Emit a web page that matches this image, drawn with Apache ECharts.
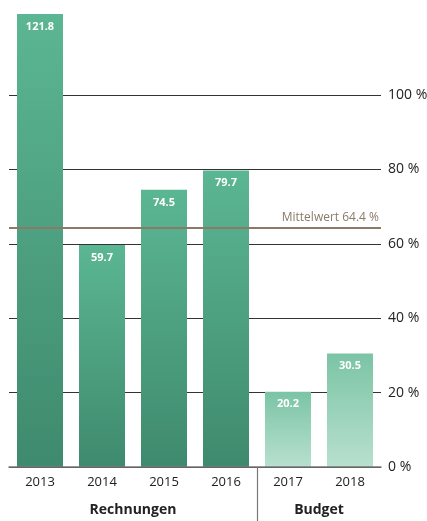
<!DOCTYPE html>
<html>
<head>
<meta charset="utf-8">
<script src="https://cdn.jsdelivr.net/npm/echarts@6/dist/echarts.min.js"></script>
<style>
  html, body { margin: 0; padding: 0; background: #fff; }
  #chart { width: 427px; height: 521px; }
</style>
</head>
<body>
<div id="chart"></div>
<script>
// Jahreswerte in Prozent
const years = ['2013', '2014', '2015', '2016', '2017', '2018'];
const values = [121.8, 59.7, 74.5, 79.7, 20.2, 30.5];
const isBudget = [false, false, false, false, true, true];
const yTicks = [0, 20, 40, 60, 80, 100];
const meanValue = 64.4;
const meanLabel = 'Mittelwert';
const groups = [
  { name: 'Rechnungen', from: 0, to: 3 },
  { name: 'Budget', from: 4, to: 5 }
];

const FONT = '"Open Sans", "Noto Sans", sans-serif';

const gradActual = new echarts.graphic.LinearGradient(0, 0, 0, 1, [
  { offset: 0, color: '#5bb693' },
  { offset: 1, color: '#3f8a6e' }
]);
const gradBudget = new echarts.graphic.LinearGradient(0, 0, 0, 1, [
  { offset: 0, color: '#7bc4a5' },
  { offset: 1, color: '#b8e0cf' }
]);

const chart = echarts.init(document.getElementById('chart'), null, { renderer: 'canvas' });

chart.setOption({
  animation: false,
  grid: {
    left: 9, right: 46, top: 95, bottom: 54,
    containLabel: false,
    outerBoundsMode: 'none'
  },
  xAxis: {
    type: 'category',
    data: years,
    axisLine: { show: true, lineStyle: { color: '#777', width: 1.5 } },
    axisTick: { show: false },
    axisLabel: { color: '#222', fontFamily: FONT, fontSize: 13, margin: 9 },
    z: 5
  },
  yAxis: {
    type: 'value',
    position: 'right',
    min: yTicks[0],
    max: yTicks[yTicks.length - 1],
    interval: 20,
    axisLine: { show: false },
    axisTick: { show: false },
    axisLabel: {
      color: '#222', fontFamily: FONT, fontSize: 14, margin: 7,
      formatter: v => v + ' %'
    },
    splitLine: { show: true, lineStyle: { color: '#333', width: 1 } }
  },
  series: [{
    type: 'bar',
    data: values.map((v, i) => ({
      value: v,
      itemStyle: { color: isBudget[i] ? gradBudget : gradActual }
    })),
    barWidth: 46,
    clip: false,
    label: {
      show: true,
      position: 'insideTop',
      distance: 7,
      color: '#fff',
      fontFamily: FONT,
      fontWeight: 'bold',
      fontSize: 11,
      formatter: p => p.value.toFixed(1)
    },
    markLine: {
      silent: true,
      symbol: 'none',
      data: [{ yAxis: meanValue }],
      lineStyle: { color: '#8a7a67', width: 2, type: 'solid' },
      label: {
        position: 'insideEndTop',
        distance: [2, 4],
        color: '#8a7a67',
        fontFamily: FONT,
        fontSize: 12,
        formatter: meanLabel + ' ' + meanValue.toFixed(1) + ' %'
      }
    }
  }]
});

// Gruppenbeschriftungen und Trennlinie unter der Kategorieachse
function px(i) { return chart.convertToPixel({ xAxisIndex: 0 }, i); }
const zeroY = chart.convertToPixel({ yAxisIndex: 0 }, 0);
const graphics = groups.map(g => ({
  type: 'text',
  x: (px(g.from) + px(g.to)) / 2,
  y: zeroY + 43,
  style: {
    text: g.name,
    fill: '#222',
    font: 'bold 14px ' + FONT,
    textAlign: 'center',
    textVerticalAlign: 'middle'
  }
}));
const sepX = Math.round((px(groups[0].to) + px(groups[1].from)) / 2) + 0.5;
graphics.push({
  type: 'line',
  shape: { x1: sepX, y1: zeroY, x2: sepX, y2: 521 },
  style: { stroke: '#777', lineWidth: 1.2 }
});
chart.setOption({ graphic: graphics });
</script>
</body>
</html>
